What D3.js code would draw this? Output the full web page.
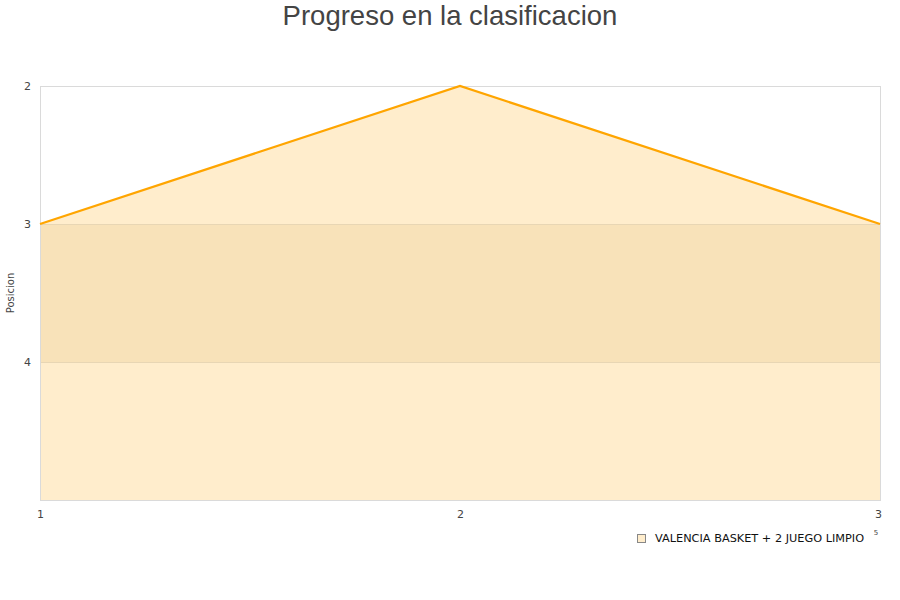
<!DOCTYPE html>
<html>
<head>
<meta charset="utf-8">
<script src="https://cdn.jsdelivr.net/npm/d3@7/dist/d3.min.js"></script>
<style>
  html, body { margin: 0; padding: 0; background: #fff; }
  svg { display: block; }
</style>
</head>
<body>
<svg id="chart" width="900" height="600"></svg>
<script>
// Jornadas y posición en la clasificación
const jornadas = [1, 2, 3];
const posiciones = [3, 2, 3];
const yTicks = [2, 3, 4];
const serieNombre = "VALENCIA BASKET + 2 JUEGO LIMPIO";
const titulo = "Progreso en la clasificacion";
const ejeY = "Posicion";

const svg = d3.select("#chart");
const W = 900, H = 600;
const plot = { left: 40, right: 880, top: 86, bottom: 500 };

const x = d3.scaleLinear().domain([1, 3]).range([plot.left, plot.right]);
const y = d3.scaleLinear().domain([2, 5]).range([plot.top, plot.bottom]);

const data = jornadas.map((j, i) => ({ j, p: posiciones[i] }));

// Área bajo la línea
const area = d3.area()
  .x(d => x(d.j))
  .y0(y(5))
  .y1(d => y(d.p));
svg.append("path")
  .datum(data)
  .attr("d", area)
  .attr("fill", "#FFEDCC");

// Banda alterna entre 3 y 4
svg.append("rect")
  .attr("x", plot.left)
  .attr("y", y(3))
  .attr("width", plot.right - plot.left)
  .attr("height", y(4) - y(3))
  .attr("fill", "#E6C48A")
  .attr("opacity", 0.28);

// Líneas de cuadrícula
svg.append("g")
  .selectAll("line")
  .data(yTicks.filter(t => t !== 2))
  .join("line")
  .attr("x1", plot.left).attr("x2", plot.right)
  .attr("y1", d => y(d)).attr("y2", d => y(d))
  .attr("stroke", "#E8D6B4")
  .attr("stroke-width", 1)
  .attr("shape-rendering", "crispEdges");

// Borde del área de trazado
svg.append("rect")
  .attr("x", plot.left + 0.5)
  .attr("y", plot.top + 0.5)
  .attr("width", plot.right - plot.left)
  .attr("height", plot.bottom - plot.top)
  .attr("fill", "none")
  .attr("stroke", "#DADADA")
  .attr("stroke-width", 1);

// Línea de la serie
const line = d3.line().x(d => x(d.j)).y(d => y(d.p));
svg.append("path")
  .datum(data)
  .attr("d", line)
  .attr("fill", "none")
  .attr("stroke", "#FFA500")
  .attr("stroke-width", 2.2);

// Eje Y
const yAxis = d3.axisLeft(y).tickValues(yTicks).tickSize(0).tickPadding(9).tickFormat(d3.format("d"));
const gy = svg.append("g")
  .attr("transform", `translate(${plot.left},0)`)
  .call(yAxis);
gy.select(".domain").remove();
gy.selectAll("text")
  .attr("fill", "#444")
  .style("font-family", "DejaVu Sans, Verdana, sans-serif")
  .style("font-size", "11px");

// Eje X
const xAxis = d3.axisBottom(x).tickValues(jornadas).tickSize(0).tickPadding(10).tickFormat(d3.format("d"));
const gx = svg.append("g")
  .attr("transform", `translate(0,${plot.bottom})`)
  .call(xAxis);
gx.select(".domain").remove();
gx.selectAll("text")
  .attr("fill", "#444")
  .style("font-family", "DejaVu Sans, Verdana, sans-serif")
  .style("font-size", "11px");
gx.selectAll(".tick").filter(d => d === 3).select("text").attr("dx", "-2");

// Título
svg.append("text")
  .attr("x", W / 2)
  .attr("y", 25)
  .attr("text-anchor", "middle")
  .attr("fill", "#444")
  .style("font-family", "Liberation Sans, Arial, sans-serif")
  .style("font-size", "27.5px")
  .text(titulo);

// Título del eje Y
svg.append("text")
  .attr("transform", `translate(14,${(plot.top + plot.bottom) / 2}) rotate(-90)`)
  .attr("text-anchor", "middle")
  .attr("fill", "#444")
  .style("font-family", "DejaVu Sans, Verdana, sans-serif")
  .style("font-size", "10px")
  .text(ejeY);

// Leyenda
const lg = svg.append("g").attr("transform", "translate(637,534)");
lg.append("rect")
  .attr("x", 0.5).attr("y", 0.5)
  .attr("width", 8).attr("height", 8)
  .attr("fill", "#FFEDCC")
  .attr("stroke", "#888")
  .attr("stroke-width", 1);
lg.append("text")
  .attr("x", 18).attr("y", 8)
  .attr("fill", "#111")
  .style("font-family", "DejaVu Sans, Verdana, sans-serif")
  .style("font-size", "11.3px")
  .text(serieNombre);

// Marca residual del eje X
svg.append("text")
  .attr("x", 876).attr("y", 535)
  .attr("text-anchor", "middle")
  .attr("fill", "#444")
  .style("font-family", "DejaVu Sans, Verdana, sans-serif")
  .style("font-size", "7px")
  .text("5");
</script>
</body>
</html>
